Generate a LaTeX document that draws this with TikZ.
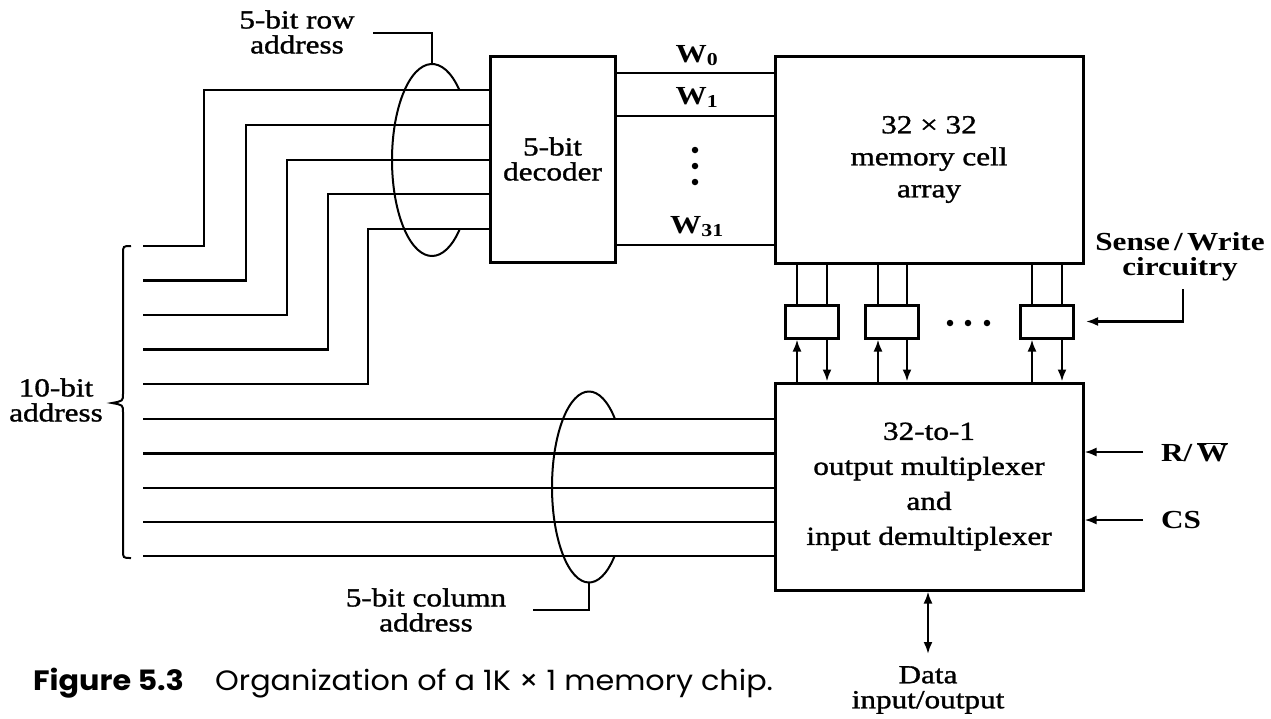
\documentclass[tikz,border=0pt]{standalone}
\usepackage{fontspec}
\setmainfont{Liberation Serif}[FakeStretch=1.2,UprightFeatures={FakeBold=1.2}]
\newfontfamily\capfont{Poppins}[FakeStretch=1.08]
\usetikzlibrary{arrows.meta,calc}
\begin{document}
\begin{tikzpicture}[x=1pt,y=-1pt,
  wire/.style={line width=2.2pt},
  arr/.style={line width=2.2pt,-{Latex[length=12pt,width=9pt]}},
  dblarr/.style={line width=2.2pt,{Latex[length=12pt,width=9pt]}-{Latex[length=12pt,width=9pt]}},
  box/.style={draw,line width=3pt,inner sep=0pt,align=center},
  swbox/.style={draw,line width=3pt,inner sep=0pt,minimum width=53pt,minimum height=33pt},
  lbl/.style={inner sep=0pt,align=center,font=\fontsize{26}{25}\selectfont},
  dot/.style={circle,fill,inner sep=0pt,minimum size=6.5pt}]
\path[use as bounding box,fill=white] (0,0) rectangle (1271,718);

% boxes
\node[box,minimum width=125pt,minimum height=206pt,font=\fontsize{26}{25}\selectfont] (dec) at (552.5,159) {5-bit\\decoder};
\node[box,minimum width=308pt,minimum height=207pt,font=\fontsize{26}{32}\selectfont] (mem) at (929,159.5) {32 × 32\\memory cell\\array};
\node[box,minimum width=308pt,minimum height=207pt,font=\fontsize{26}{35}\selectfont] (mux) at (929,486.5) {32-to-1\\output multiplexer\\and\\input demultiplexer};
\node[swbox] (sw1) at (811.5,321.5) {};
\node[swbox] (sw2) at (891.5,321.5) {};
\node[swbox] (sw3) at (1046.5,321.5) {};
\node[dot] (sd1) at (950,323) {};
\node[dot] (sd2) at (968,323) {};
\node[dot] (sd3) at (987,323) {};

% word lines
\draw[wire] (dec.east |- 0,73) -- (mem.west |- 0,73);
\draw[wire] (dec.east |- 0,116) -- (mem.west |- 0,116);
\draw[wire] (dec.east |- 0,245) -- (mem.west |- 0,245);
\node[lbl,anchor=base,font=\fontsize{26}{25}\selectfont\bfseries] (w0) at (697,62) {W\textsubscript{0}};
\node[lbl,anchor=base,font=\fontsize{26}{25}\selectfont\bfseries] (w1) at (697,104) {W\textsubscript{1}};
\node[lbl,anchor=base,font=\fontsize{26}{25}\selectfont\bfseries] (w31) at (697,233) {W\textsubscript{31}};
\node[dot] (wd1) at (695,150) {};
\node[dot] (wd2) at (695,166) {};
\node[dot] (wd3) at (695,182) {};

% row address ellipse (drawn first, wires over it)
\coordinate (rowc) at (432,160);
\draw[wire,line width=2pt] ([shift={(-46.8:40 and 96)}]rowc) arc[start angle=-46.8,end angle=-314,x radius=40,y radius=96];
\coordinate (rowtop) at (432,64);
\coordinate (rowlead) at (373,33);
\draw[wire,line width=2pt] (rowtop) |- (rowlead);
\node[lbl] (rowlbl) at (297,32) {5-bit row\\address};

% column address ellipse
\coordinate (colc) at (589,487);
\draw[wire,line width=2pt] ([shift={(-45:37 and 95.5)}]colc) arc[start angle=-45,end angle=-313.3,x radius=37,y radius=95.5];
\coordinate (colbot) at (589,582);
\coordinate (collead) at (533,610);
\draw[wire,line width=2pt] (colbot) |- (collead);
\node[lbl] (collbl) at (426,610) {5-bit column\\address};

% address lines to decoder
\foreach \i/\ya/\xv/\yb in {1/246/204/90, 2/280.5/246/125, 3/315/287/160, 4/349.5/328/194, 5/384/368/229}{
  \coordinate (a\i) at (143,\ya);
  \draw[wire] (a\i) -| (\xv,\yb) -- (dec.west |- 0,\yb);
}
% address lines to mux
\foreach \i/\ya in {1/419, 2/453.5, 3/488, 4/522, 5/556}{
  \coordinate (b\i) at (143,\ya);
  \draw[wire] (b\i) -- (mux.west |- b\i);
}

% brace and label
\draw[wire,line width=2pt] (131,246) .. controls (123,246) .. (123,254) -- (123,394)
  .. controls (123,401) .. (112,403) .. controls (123,405) .. (123,412) -- (123,550)
  .. controls (123,558) .. (131,558);
\node[lbl] (addr) at (56,400) {10-bit\\address};

% memory to sense/write
\foreach \s/\xa/\xb in {sw1/797/827, sw2/878/907, sw3/1032/1062}{
  \draw[wire] (mem.south -| \xa,0) -- (\s.north -| \xa,0);
  \draw[wire] (mem.south -| \xb,0) -- (\s.north -| \xb,0);
  \draw[arr] (mux.north -| \xa,0) -- (\s.south -| \xa,0);
  \draw[arr] (\s.south -| \xb,0) -- (mux.north -| \xb,0);
}

% sense/write label
\node[lbl,font=\fontsize{26}{25}\selectfont\bfseries] (swlbl) at (1180,257) {Sense\,/\,Write\\circuitry};
\coordinate (swlead) at (1183,289);
\coordinate (swtip) at (1086,321.5);
\draw[arr] (swlead) |- (swtip);

% control inputs
\coordinate (rwin) at (1143,452);
\coordinate (csin) at (1143,520);
\draw[arr] (rwin) -- (mux.east |- rwin);
\draw[arr] (csin) -- (mux.east |- csin);
\node[lbl,anchor=west,font=\fontsize{26}{25}\selectfont\bfseries] (rw) at (1161,452) {R/\,$\overline{\hbox{W}}$};
\node[lbl,anchor=west,font=\fontsize{26}{25}\selectfont\bfseries] (cs) at (1161,520) {CS};

% data in/out
\coordinate (dataend) at (928,654);
\draw[dblarr] (mux.south -| dataend) -- (dataend);
\node[lbl] (datalbl) at (928,690) {Data\\input/output};

% caption
\node[anchor=base west,inner sep=0pt,font=\capfont\bfseries\fontsize{28}{28}\selectfont] (fig) at (33,690) {Figure 5.3};
\node[anchor=base west,inner sep=0pt,font=\capfont\fontsize{28}{28}\selectfont] (capt) at (215,690) {Organization of a 1K × 1 memory chip.};
\end{tikzpicture}
\end{document}
